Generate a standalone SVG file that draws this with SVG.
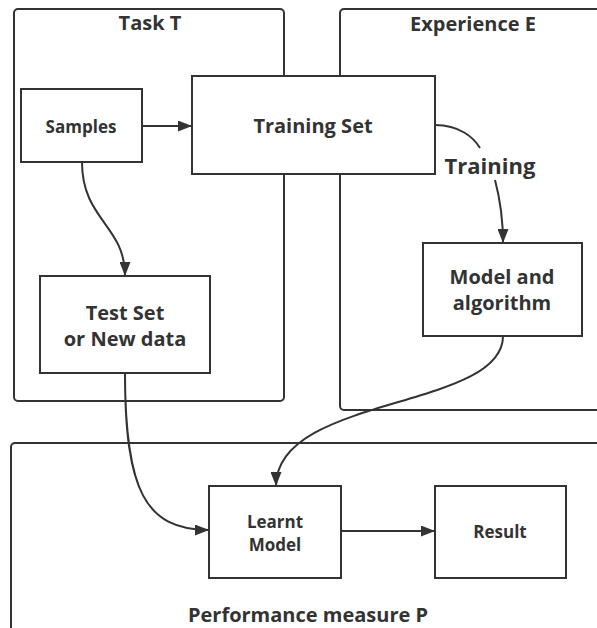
<svg xmlns="http://www.w3.org/2000/svg" width="597" height="628" viewBox="0 0 597 628">
<style>
.c{fill:none;stroke:#333;stroke-width:2}
.b{fill:#fff;stroke:#333;stroke-width:2}
.e{fill:none;stroke:#333;stroke-width:2}
text{font-family:"Open Sans","Noto Sans","DejaVu Sans",sans-serif;font-weight:bold;fill:#333;text-anchor:middle;dominant-baseline:central}
.t{font-size:20px}
.m{font-size:20px}
.s{font-size:17px}
</style>
<defs>
<marker id="a" viewBox="0 0 14 11" refX="14" refY="5.5" markerWidth="14" markerHeight="11" markerUnits="userSpaceOnUse" orient="auto">
<path d="M0 0L14 5.5L0 11z" fill="#333"/>
</marker>
</defs>
<rect width="597" height="628" fill="#fff"/>
<g id="taskT"><rect class="c" x="14" y="9" width="270" height="392" rx="4"/><text class="t" x="150" y="22">Task T</text></g>
<g id="experienceE"><rect class="c" x="340" y="9" width="280" height="401" rx="4"/><text class="t" x="473" y="23">Experience E</text></g>
<g id="performanceP"><rect class="c" x="11" y="443" width="610" height="200" rx="4"/><text class="t" x="308" y="614">Performance measure P</text></g>
<g id="samples"><rect class="b" x="21" y="89" width="121" height="73"/><text class="s" x="81" y="126">Samples</text></g>
<g id="trainingSet"><rect class="b" x="192" y="76" width="243" height="98"/><text class="m" x="313" y="125">Training Set</text></g>
<g id="testSet"><rect class="b" x="40" y="276" width="170" height="97"/><text class="m" x="125" y="312">Test Set</text><text class="m" x="125" y="338">or New data</text></g>
<g id="modelAlgorithm"><rect class="b" x="423" y="243" width="159" height="93"/><text class="m" x="502" y="276">Model and</text><text class="m" x="502" y="302">algorithm</text></g>
<g id="learntModel"><rect class="b" x="209" y="486" width="132" height="92"/><text class="s" x="275" y="521">Learnt</text><text class="s" x="275" y="544">Model</text></g>
<g id="result"><rect class="b" x="435" y="486" width="131" height="92"/><text class="s" x="500" y="531">Result</text></g>
<g id="connectors">
<path class="e" d="M142 126H192" marker-end="url(#a)"/>
<path class="e" d="M82 162C82 220 125 225 125 276" marker-end="url(#a)"/>
<path class="e" d="M435 125C460 125 474 138 480 148"/>
<path class="e" d="M495 180C499 195 503 215 503 243" marker-end="url(#a)"/>
<text x="490" y="165" style="font-size:22px">Training</text>
<path class="e" d="M503 336C503 410 276 395 276 486" marker-end="url(#a)"/>
<path class="e" d="M125 373C125 490 145 530 209 530" marker-end="url(#a)"/>
<path class="e" d="M341 531H435" marker-end="url(#a)"/>
</g>
</svg>
